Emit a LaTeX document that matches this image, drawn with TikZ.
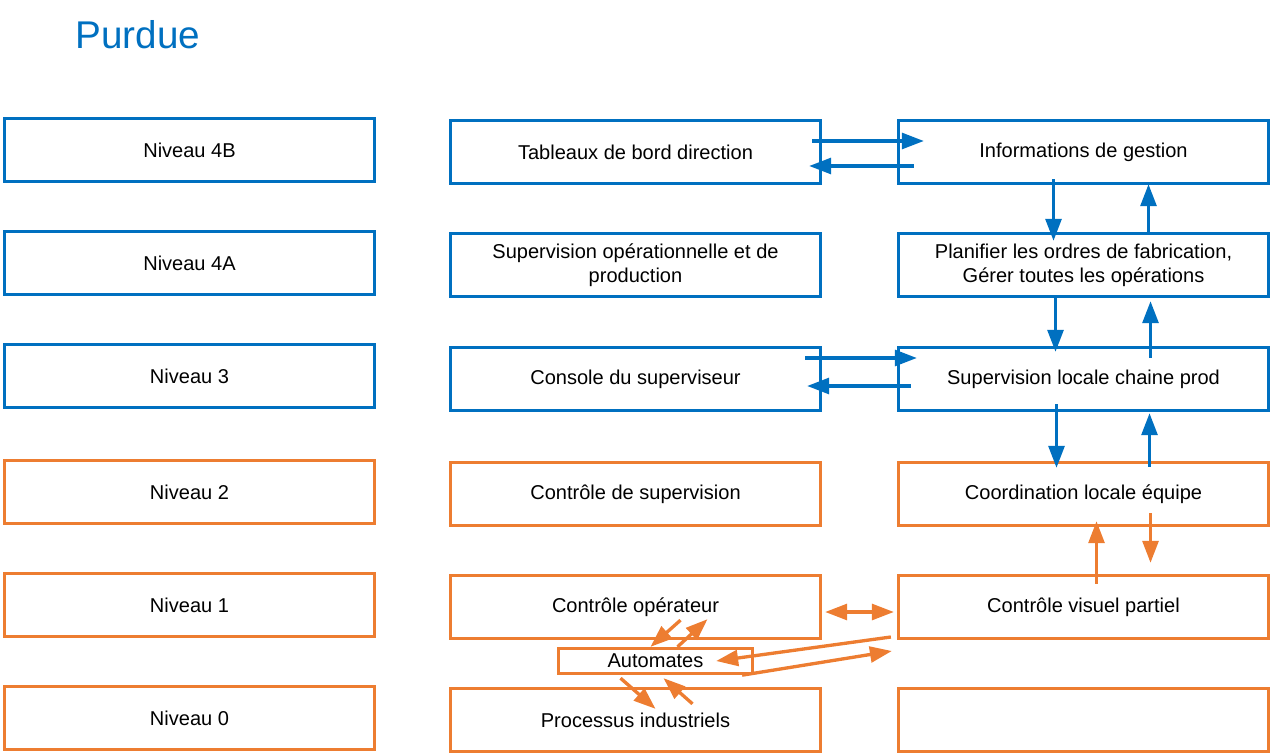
\documentclass[tikz,border=0pt]{standalone}
\usepackage{fontspec}
\setmainfont{Liberation Sans}
\usepackage{xcolor}
\usepackage{tikz}
\usetikzlibrary{arrows.meta,calc}

\definecolor{purdueblue}{HTML}{0070C0}
\definecolor{purdueorange}{HTML}{ED7D31}

\begin{document}
\begin{tikzpicture}[
  x=0.02cm, y=-0.02cm,
  every node/.style={font=\fontsize{11.4}{13.5}\selectfont},
  lvl/.style={draw, line width=1.9pt, minimum width=7.4cm, minimum height=1.26cm, align=center, inner sep=0pt},
  it/.style={lvl, draw=purdueblue},
  ot/.style={lvl, draw=purdueorange},
  arrow/.style={-{Triangle[length=12.5pt,width=9pt]}, line width=1.9pt},
  barrow/.style={arrow, purdueblue},
  oarrow/.style={arrow, purdueorange},
  dblarrow/.style={{Triangle[length=12.5pt,width=9pt]}-{Triangle[length=12.5pt,width=9pt]}, line width=1.9pt, purdueorange}
]
  \useasboundingbox (0,0) rectangle (1273,756);

  \node[text=purdueblue, font=\fontsize{22}{26}\selectfont] (title) at (138,35) {Purdue};

  % niveaux
  \node[it] (niv4b) at (189.5,150) {Niveau 4B};
  \node[it] (niv4a) at (189.5,263) {Niveau 4A};
  \node[it] (niv3)  at (189.5,376) {Niveau 3};
  \node[ot] (niv2)  at (189.5,492) {Niveau 2};
  \node[ot] (niv1)  at (189.5,605) {Niveau 1};
  \node[ot] (niv0)  at (189.5,718) {Niveau 0};

  \node[it] (tab)     at (635.5,152) {Tableaux de bord direction};
  \node[it] (supop)   at (635.5,265) {Supervision opérationnelle et de\\production};
  \node[it] (console) at (635.5,379) {Console du superviseur};
  \node[ot] (ctrlsup) at (635.5,494) {Contrôle de supervision};
  \node[ot] (ctrlop)  at (635.5,607) {Contrôle opérateur};
  \node[ot] (proc)    at (635.5,720) {Processus industriels};

  \node[it] (info)   at (1083.5,152) {Informations de gestion};
  \node[it] (plan)   at (1083.5,265) {Planifier les ordres de fabrication,\\Gérer toutes les opérations};
  \node[it] (suploc) at (1083.5,379) {Supervision locale chaine prod};
  \node[ot] (coord)  at (1083.5,494) {Coordination locale équipe};
  \node[ot] (visuel) at (1083.5,607) {Contrôle visuel partiel};
  \node[ot] (vide)   at (1083.5,720) {};

  \node[draw=purdueorange, line width=1.9pt, minimum width=3.88cm, minimum height=0.5cm, inner sep=0pt] (autom) at (655.5,661) {Automates};

  % flux bleus
  \draw[barrow] ($(tab.east)+(-10,-11)$) -- ($(info.west)+(27,-11)$);
  \draw[barrow] ($(info.west)+(17,14)$) -- ($(tab.east)+(-13,14)$);
  \draw[barrow] ($(info.south)+(-30,-6)$) -- ($(plan.north)+(-30,9)$);
  \draw[barrow] ($(plan.north)+(65,0)$) -- ($(info.south)+(65,-1)$);
  \draw[barrow] ($(plan.south)+(-28,0)$) -- ($(suploc.north)+(-28,6)$);
  \draw[barrow] ($(suploc.north)+(67,12)$) -- ($(plan.south)+(67,3)$);
  \draw[barrow] ($(console.east)+(-17,-21)$) -- ($(suploc.west)+(20,-21)$);
  \draw[barrow] ($(suploc.west)+(14,7)$) -- ($(console.east)+(-15,7)$);
  \draw[barrow] ($(suploc.south)+(-27,-8)$) -- ($(coord.north)+(-27,7)$);
  \draw[barrow] ($(coord.north)+(66,6)$) -- ($(suploc.south)+(66,1)$);

  % flux orange
  \draw[oarrow] ($(visuel.north)+(13,10)$) -- ($(coord.south)+(13,-6)$);
  \draw[oarrow] ($(coord.south)+(67,-14)$) -- ($(visuel.north)+(67,-11)$);
  \draw[dblarrow] ($(ctrlop.east)+(3,5)$) -- ($(visuel.west)+(-3,5)$);
  \draw[oarrow] ($(visuel.west)+(-6,30)$) -- ($(autom.east)+(-38,0)$);
  \draw[oarrow] ($(autom.south east)+(-12,0)$) -- ($(visuel.west)+(-5,44)$);
  \draw[oarrow] ($(ctrlop.south)+(45,-20)$) -- ($(autom.north)+(-5,0)$);
  \draw[oarrow] ($(autom.north)+(22,0)$) -- ($(ctrlop.south)+(72,-21)$);
  \draw[oarrow] ($(autom.south)+(-35,3)$) -- ($(proc.north)+(20,22)$);
  \draw[oarrow] ($(proc.north)+(57,17)$) -- ($(autom.south)+(8,3)$);
\end{tikzpicture}
\end{document}
